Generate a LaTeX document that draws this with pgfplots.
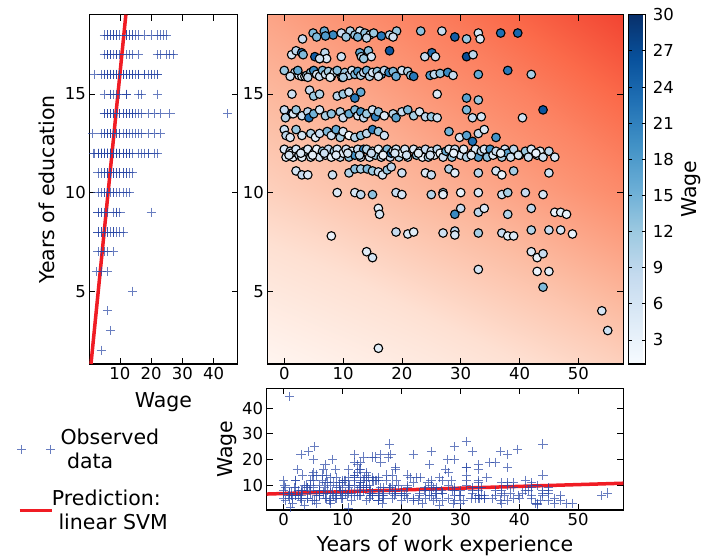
\documentclass[border=0pt]{standalone}
\usepackage{fontspec}
\setmainfont{DejaVu Sans}
\usepackage{pgfplots}
\usepackage{pgfplotstable}
\pgfplotsset{compat=1.18}

\definecolor{crossblue}{RGB}{40,70,165}
\definecolor{svmred}{RGB}{240,28,36}

\pgfplotstableread{
edu eduj exp wage
14 14.0 1.0 44.5
18 18.1 4.9 14
18 18.2 6.8 16
18 18.0 8.3 20
18 18.1 9.7 8
18 18.2 11.2 10
18 18.0 12.0 12
18 18.2 12.85 6
18 18.1 13.7 13
18 18.0 14.55 7
18 18.1 15.2 12
18 18.0 17.9 9
18 18.2 19.1 12
18 18.2 23.2 13
18 18.2 26.8 8
18 17.9 29.0 25
18 17.8 31.0 12
18 18.1 33.0 6
18 18.1 36.8 23
18 18.1 39.7 24
18 17.8 3.1 8
18 17.9 5.5 14
18 17.95 7.0 18
18 17.9 10.5 12
18 17.9 12.5 15
18 17.85 14.0 9
18 17.9 18.5 7
18 17.8 33.3 5
18 17.95 16.5 22
17 17.0 1.25 6
17 17.2 2.0 9
17 17.1 2.95 22
17 17.0 3.2 14
17 16.9 5.2 25
17 16.8 6.05 6
17 17.1 6.9 9
17 16.8 7.2 5
17 16.9 9.7 7
17 17.1 12.85 16
17 16.9 13.1 10
17 17.2 14.3 13
17 16.9 14.8 6
17 17.2 17.9 26
17 16.9 23.9 8
17 17.1 25.1 23
17 16.9 25.7 7
17 16.9 31.0 27
17 17.0 32.1 9
17 16.8 13.5 12
17 16.8 6.0 7
16 16.2 0.0 12
16 16.1 1.8 9
16 15.95 2.5 6
16 15.9 3.0 5
16 15.9 3.5 2
16 15.95 3.8 10
16 16.1 4.5 12
16 16.2 5.0 20
16 16.0 5.5 6
16 15.9 6.0 8
16 16.2 6.5 14
16 16.0 7.0 7
16 16.15 7.5 11
16 15.9 8.0 10
16 16.1 8.5 6
16 16.2 9.0 13
16 15.85 9.8 5
16 16.1 10.3 12
16 15.95 11.0 9
16 16.2 11.5 7
16 16.0 12.0 14
16 16.15 12.5 18
16 15.95 13.0 11
16 16.1 13.5 8
16 16.2 14.0 15
16 15.9 14.5 10
16 16.1 15.0 6
16 16.15 15.8 12
16 16.0 16.5 19
16 16.2 17.0 9
16 16.1 17.8 21
16 16.15 18.5 14
16 16.2 20.0 7
16 16.15 21.0 10
16 15.95 21.5 13
16 15.9 22.0 22
16 15.95 24.8 18
16 16.0 25.5 9
16 16.05 26.5 13
16 16.1 27.8 20
16 15.95 28.7 8
16 16.0 33.0 16
16 16.2 38.0 22
16 16.0 42.0 11
16 15.9 1.0 7
16 15.85 4.0 9
16 15.85 10.0 11
16 15.9 19.0 16
16 15.9 16.0 7
16 15.85 7.8 4
16 16.2 2.3 16
15 15.0 1.3 7
15 15.2 4.3 8
15 14.9 5.0 12
15 15.0 6.0 10
15 14.9 9.0 9
15 15.0 10.0 12
15 15.1 11.0 7
15 14.8 12.0 22
15 15.1 13.0 16
15 15.0 26.0 5
15 14.8 31.0 17
15 14.7 33.0 12
14 14.2 0.0 8
14 13.8 0.2 10
14 14.0 1.5 5
14 14.2 2.0 12
14 13.9 3.0 7
14 14.1 4.0 9
14 13.8 4.2 23
14 14.0 5.0 15
14 14.2 6.0 6
14 13.9 7.0 11
14 14.0 8.0 13
14 14.1 9.5 10
14 13.8 10.0 8
14 14.0 11.0 16
14 14.2 12.0 14
14 13.9 12.5 6
14 14.1 13.0 19
14 13.8 13.5 9
14 14.0 14.0 12
14 14.2 15.0 7
14 13.85 15.5 21
14 14.1 16.0 13
14 13.9 17.0 5
14 14.0 18.5 10
14 13.8 19.0 17
14 14.1 20.0 8
14 14.2 21.0 14
14 13.9 22.0 11
14 14.1 23.0 6
14 13.85 24.0 9
14 13.85 25.0 12
14 13.8 26.0 7
14 14.2 31.0 14
14 13.8 32.0 8
14 13.85 33.5 6
14 13.8 40.5 7
14 14.2 44.0 26
13 13.2 0.0 7
13 12.9 0.3 9
13 12.8 1.0 5
13 13.2 2.0 12
13 12.9 3.0 6
13 13.0 4.5 10
13 12.8 5.3 4
13 13.0 6.0 8
13 13.1 7.3 14
13 12.9 8.0 7
13 13.2 8.8 16
13 12.8 9.5 11
13 13.1 10.0 6
13 12.9 11.0 1.2
13 12.8 12.0 10
13 12.9 13.0 13
13 13.0 14.0 9
13 13.2 15.0 21
13 13.1 16.0 12
13 12.9 17.0 7
13 13.1 28.0 15
13 12.8 29.8 6
13 12.9 31.0 17
13 12.6 32.0 23
13 13.0 33.0 8
13 13.2 34.0 5
13 12.8 36.0 19
12 12.2 0.0 5
12 11.8 0.3 4
12 12.1 1.0 7
12 11.8 1.5 3
12 12.0 1.2 1.5
12 12.2 2.0 6
12 11.9 2.5 8
12 11.8 3.0 4
12 12.1 3.5 10
12 12.2 4.0 5
12 11.8 4.5 7
12 12.0 5.0 9
12 12.2 5.5 3
12 11.8 6.0 6
12 12.1 6.5 12
12 11.9 7.0 5
12 12.2 7.5 8
12 11.8 8.0 4
12 12.1 8.5 11
12 12.2 9.0 6
12 11.8 9.5 9
12 12.0 10.0 5
12 12.2 10.5 7
12 11.8 11.0 13
12 12.1 11.5 4
12 11.9 12.0 19
12 12.2 12.5 8
12 11.8 13.0 6
12 12.2 13.5 21
12 12.2 14.0 10
12 11.8 14.5 5
12 12.1 15.0 7
12 11.9 15.5 12
12 12.2 16.0 4
12 11.8 16.5 9
12 12.0 17.0 6
12 12.2 17.5 14
12 11.8 18.0 8
12 12.0 18.2 22
12 12.1 18.5 5
12 12.2 19.0 7
12 11.8 19.5 10
12 12.0 20.0 4
12 12.2 20.5 6
12 11.8 21.0 9
12 12.2 22.0 5
12 11.9 22.5 13
12 12.1 23.0 7
12 11.8 23.5 3
12 12.2 24.0 8
12 11.8 24.5 11
12 12.1 25.0 6
12 11.9 25.5 4
12 12.2 26.0 9
12 12.0 26.5 2
12 11.8 27.0 7
12 12.1 27.5 16
12 12.2 28.0 5
12 11.8 28.5 12
12 12.2 29.0 8
12 11.9 30.0 6
12 12.2 30.5 4
12 11.8 31.0 10
12 12.0 32.0 7
12 12.2 32.5 5
12 11.8 33.0 18
12 12.1 33.5 9
12 12.2 34.0 6
12 11.8 34.5 13
12 12.2 35.0 19
12 11.9 35.5 5
12 12.1 36.0 8
12 11.8 37.0 11
12 12.2 37.5 6
12 12.0 38.0 17
12 11.8 38.5 7
12 12.2 39.0 9
12 11.9 40.0 5
12 12.1 41.0 12
12 11.8 41.5 8
12 12.2 42.0 6
12 11.9 43.0 10
12 12.1 43.5 4
12 11.8 44.0 7
12 12.1 45.0 9
12 11.8 46.0 5
12 11.9 0.8 6
12 12.0 2.8 5
12 11.9 4.8 4
12 12.0 6.8 7
12 11.9 8.8 5
12 12.0 10.8 6
12 11.9 12.8 9
12 12.0 14.8 8
12 11.9 16.8 3
12 12.0 18.8 6
12 11.9 20.8 7
12 12.0 22.8 4
12 11.9 24.8 6
12 12.0 28.8 3
12 11.9 31.8 5
12 12.0 36.8 4
12 11.9 39.8 6
12 12.0 42.8 3
11 11.1 2.0 6
11 10.9 3.0 8
11 10.9 4.0 5
11 10.9 8.2 7
11 11.0 11.0 10
11 11.2 12.0 13
11 11.2 13.0 11
11 11.2 14.1 14
11 11.1 15.0 12
11 11.05 16.0 8
11 10.9 16.7 6
11 11.15 17.5 12
11 11.3 18.2 9
11 11.0 20.0 7
11 11.0 24.0 5
11 10.9 25.0 8
11 11.2 28.0 10
11 11.0 29.0 4
11 11.0 33.0 9
11 11.1 36.0 6
11 10.9 37.0 3
11 11.1 39.0 11
11 11.0 45.0 7
10 10.0 9.0 5
10 10.0 12.0 6
10 9.9 13.0 9
10 9.9 15.0 13
10 10.0 19.0 8
10 9.9 20.0 6
10 9.9 25.0 10
10 10.0 27.0 12
10 9.9 27.0 4
10 10.0 30.0 3
10 10.0 33.0 5
10 9.9 37.0 7
10 10.0 38.0 11
10 10.0 41.0 8
10 9.9 44.0 6
9 9.2 16.0 4
9 8.9 16.2 6
9 8.9 29.0 20
9 9.2 30.0 8
9 9.0 33.0 9
9 9.2 34.0 5
9 8.9 38.0 10
9 9.2 42.0 9
9 9.0 46.0 3
9 9.0 47.0 4
9 8.9 48.0 3
8 7.8 8.0 3
8 8.0 19.0 8
8 7.9 21.0 5
8 8.0 22.0 4
8 7.95 27.0 7
8 8.05 29.0 9
8 7.85 29.0 6
8 7.95 33.0 11
8 7.95 37.0 8
8 7.8 38.0 4
8 7.8 39.0 5
8 8.1 42.0 10
8 8.1 45.0 8
8 8.1 47.0 6
8 7.9 49.0 3
7 7.0 14.0 4
7 6.7 15.0 6
7 7.0 42.0 5
7 6.7 43.0 3
7 6.9 44.0 8
6 6.1 33.0 6
6 6.0 43.0 2.5
6 6.0 45.0 4
5 5.2 44.0 14
4 4.0 54.0 6
3 3.0 55.0 7
2 2.1 16.0 4
}\wagedata

% background prediction field (triangles), value t on the Reds scale
\pgfplotstableread{
x y t
-2.89 1.3 0
27.38 1.3 0.08
-2.89 10.165 0.18
27.38 1.3 0.08
27.38 10.165 0.28
-2.89 10.165 0.18
27.38 1.3 0.08
57.65 1.3 0.18
27.38 10.165 0.28
57.65 1.3 0.18
57.65 10.165 0.40
27.38 10.165 0.28
-2.89 10.165 0.18
27.38 10.165 0.28
-2.89 19.03 0.32
27.38 10.165 0.28
27.38 19.03 0.45
-2.89 19.03 0.32
27.38 10.165 0.28
57.65 10.165 0.40
27.38 19.03 0.45
57.65 10.165 0.40
57.65 19.03 0.60
27.38 19.03 0.45
}\bgdata

\pgfplotsset{
  colormap={blues}{rgb255=(247,251,255) rgb255=(222,235,247) rgb255=(198,219,239) rgb255=(158,202,225) rgb255=(107,174,214) rgb255=(66,146,198) rgb255=(33,113,181) rgb255=(8,81,156) rgb255=(8,48,107)},
  colormap={reds}{rgb255=(255,245,240) rgb255=(254,224,210) rgb255=(252,187,161) rgb255=(252,146,114) rgb255=(251,106,74) rgb255=(239,59,44) rgb255=(203,24,29) rgb255=(165,15,21) rgb255=(103,0,13)},
  every axis/.append style={
    scale only axis,
    tick align=inside,
    major tick length=6pt,
    tick style={black, line width=0.8pt},
    axis line style={line width=1.1pt},
    tick label style={font=\fontsize{16.5}{18}\selectfont},
    label style={font=\fontsize{20.5}{24}\selectfont},
    /pgf/number format/assume math mode=true,
  },
  two marks legend/.style={
    legend image code/.code={\draw[##1] plot coordinates {(2pt,0pt) (30.7pt,0pt)};}
  },
  long line legend/.style={
    legend image code/.code={\draw[##1] (0pt,0pt) -- (32pt,0pt);}
  },
}

\begin{document}
\begin{tikzpicture}
\useasboundingbox (0,0) rectangle (710pt,-558pt);

% ---- left panel: wage vs education
\begin{axis}[
  at={(89.3pt,-14.7pt)}, anchor=north west,
  width=148.4pt, height=349.3pt,
  xmin=0.2, xmax=47.7, ymin=1.3, ymax=19.03,
  xtick={10,20,30,40}, ytick={5,10,15},
  xlabel={Wage}, ylabel={Years of education},
  xlabel style={at={(axis description cs:0.5,-0.108)}, anchor=center},
  ylabel style={at={(axis description cs:-0.285,0.5)}, anchor=center},
]
\addplot[only marks, mark=+, mark size=4.6pt, crossblue, opacity=0.7, mark options={line width=0.9pt}]
  table[x=wage, y=edu]{\wagedata};
\addplot[svmred, line width=3.5pt] coordinates {(0.74,1.3) (11.9,19.03)};
\end{axis}

% ---- background of main panel
\begin{axis}[
  at={(267.3pt,-14.7pt)}, anchor=north west,
  width=356pt, height=349.3pt,
  xmin=-2.89, xmax=57.65, ymin=1.3, ymax=19.03,
  hide axis, colormap name=reds, point meta min=0, point meta max=1,
]
\addplot[patch, shader=interp, point meta=explicit] table[x=x, y=y, meta=t]{\bgdata};
\end{axis}

% ---- main panel: experience vs education, coloured by wage
\begin{axis}[
  at={(267.3pt,-14.7pt)}, anchor=north west,
  width=356pt, height=349.3pt,
  xmin=-2.89, xmax=57.65, ymin=1.3, ymax=19.03,
  xtick={0,10,20,30,40,50}, ytick={5,10,15},
  colormap name=blues, point meta min=1, point meta max=30,
  colorbar,
  colorbar style={
    at={(parent axis.north east)}, anchor=north west, xshift=-3.6pt,
    width=17.6pt,
    ytick={3,6,9,12,15,18,21,24,27,30},
    yticklabel style={xshift=3.5pt},
    major tick length=4pt,
    ylabel={Wage},
    ylabel style={at={(axis description cs:3.6,0.5)}, anchor=center},
  },
]
\addplot[scatter, only marks, mark=*, mark size=4.3pt, scatter src=explicit,
  scatter/use mapped color={draw=black, fill=mapped color},
  mark options={line width=1.1pt}]
  table[x=exp, y=eduj, meta=wage]{\wagedata};
\end{axis}

% ---- bottom panel: wage vs experience
\begin{axis}[
  at={(266.7pt,-388.3pt)}, anchor=north west,
  width=356.6pt, height=121.7pt,
  xmin=-2.89, xmax=57.65, ymin=0.4, ymax=47.65,
  xtick={0,10,20,30,40,50}, ytick={10,20,30,40},
  xlabel={Years of work experience}, ylabel={Wage},
  xlabel style={at={(axis description cs:0.5,-0.296)}, anchor=center},
  ylabel style={at={(axis description cs:-0.111,0.5)}, anchor=center},
  legend style={at={(axis description cs:-0.709,0.70)}, anchor=north west,
    draw=none, fill=none, font=\fontsize{20.5}{24}\selectfont,
    cells={align=left}, row sep=16pt,
    /tikz/every odd column/.append style={column sep=-5pt}},
]
\addlegendimage{only marks, mark=+, mark size=4.6pt, crossblue, opacity=0.7, mark options={line width=0.9pt}, two marks legend}
\addlegendentry{Observed\\\hspace*{0.32em}data}
\addlegendimage{svmred, line width=3.5pt, long line legend}
\addlegendentry{Prediction:\\\hspace*{0.32em}linear SVM}
\addplot[forget plot, only marks, mark=+, mark size=4.6pt, crossblue, opacity=0.7, mark options={line width=0.9pt}]
  table[x=exp, y=wage]{\wagedata};
\addplot[forget plot, svmred, line width=3.5pt] coordinates {(-2.89,6.6) (57.65,10.8)};
\end{axis}
\end{tikzpicture}
\end{document}
